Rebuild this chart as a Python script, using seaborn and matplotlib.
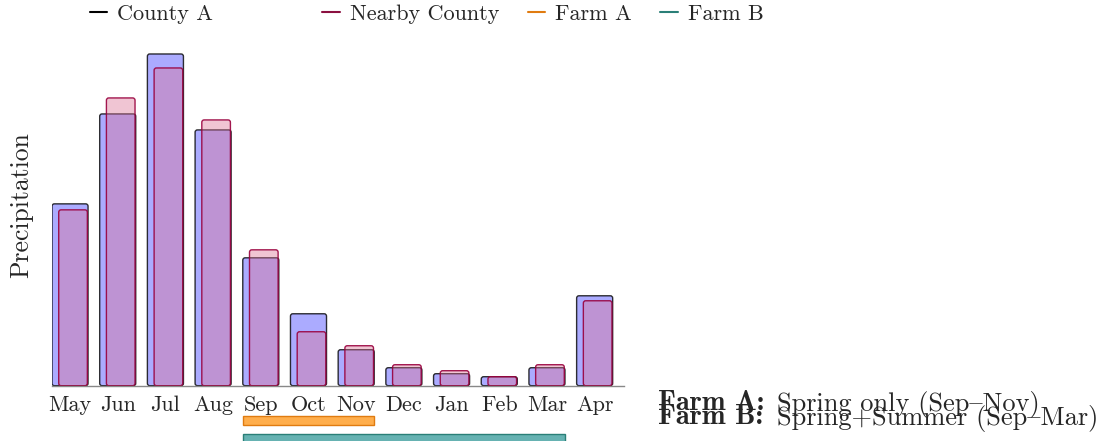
import seaborn as sns
import matplotlib.pyplot as plt
from matplotlib.lines import Line2D
from matplotlib.patches import FancyBboxPatch

# monthly precipitation
months = ['May', 'Jun', 'Jul', 'Aug', 'Sep', 'Oct', 'Nov', 'Dec', 'Jan', 'Feb', 'Mar', 'Apr']
county_a = [91, 136, 166, 128, 64, 36, 18, 9, 6, 4.5, 9, 45]
nearby_county = [88, 144, 159, 133, 68, 27, 20, 10.5, 7.5, 4.5, 10.5, 42.5]

# farm seasons (first and last month)
farms = ['Farm A', 'Farm B']
farm_start = ['Sep', 'Sep']
farm_end = ['Nov', 'Mar']
# '{' is the en dash slot in the TeX font cmr10
farm_notes = ['Spring only (Sep{Nov)', 'Spring+Summer (Sep{Mar)']

sns.set_style('white')
plt.rcParams['font.family'] = ['cmr10', 'DejaVu Serif']
plt.rcParams['mathtext.fontset'] = 'cm'
plt.rcParams['axes.formatter.use_mathtext'] = True

fig = plt.figure(figsize=(11.04, 4.41), dpi=100)
ax = fig.add_axes([0.0471, 0.1254, 0.5181, 0.793])

sns.barplot(x=months, y=county_a, order=months, color='blue',
            saturation=1, width=0.756, errorbar=None, ax=ax)
sns.barplot(x=months, y=nearby_county, order=months, color='palevioletred',
            saturation=1, width=0.6, errorbar=None, ax=ax)

ax.set_xlim(-0.378, 11.615)
ax.set_ylim(0, 175)

# swap plain rectangles for slightly rounded boxes
aspect = (0.5181 * 1104 / 11.993) / (0.793 * 441 / 175)
styles = [((0, 0, 1, 0.33), (0, 0, 0, 0.8), 0.0),
          ((0.859, 0.439, 0.576, 0.4), (0.6, 0.0, 0.24, 0.9), 0.063)]
for cont, (fc, ec, dx) in zip(ax.containers, styles):
    for bar in cont:
        x, w, h = bar.get_x() + dx, bar.get_width(), bar.get_height()
        bar.set_visible(False)
        ax.add_patch(FancyBboxPatch((x, 0), w, h,
                                    boxstyle='round,pad=0,rounding_size=0.05',
                                    mutation_aspect=aspect, facecolor=fc,
                                    edgecolor=ec, linewidth=1.0))

# farm season bars below the axis
farm_colors = [((1.0, 0.549, 0.0, 0.7), '#e07b10'), ((0.0, 0.502, 0.502, 0.6), '#2a7f77')]
farm_y = [-17.4, -26.8]
for i, f in enumerate(farms):
    x0 = months.index(farm_start[i]) - 0.378
    x1 = months.index(farm_end[i]) + 0.378
    ax.barh(farm_y[i], x1 - x0, left=x0, height=4.8, color=farm_colors[i][0],
            edgecolor=farm_colors[i][1], linewidth=1.0, clip_on=False)

ax.set_yticks([])
ax.set_xlabel('')
ax.set_ylabel('Precipitation', fontsize=18.5)
ax.yaxis.set_label_coords(-0.033, 0.517)
ax.tick_params(axis='x', length=0, pad=7, labelsize=16)
for s in ['left', 'right', 'top']:
    ax.spines[s].set_visible(False)
ax.spines['bottom'].set_color('#888888')
ax.spines['bottom'].set_linewidth(1.0)

# legends
h1 = [Line2D([], [], color='black', lw=1.5)]
fig.legend(h1, ['County A'], loc='upper left', bbox_to_anchor=(0.063, 1.035),
           frameon=False, fontsize=16, handlelength=0.77, handletextpad=0.45)
h2 = [Line2D([], [], color='#8b1040', lw=1.5),
      Line2D([], [], color='#e07b10', lw=1.5),
      Line2D([], [], color='#2a7f77', lw=1.5)]
fig.legend(h2, ['Nearby County', 'Farm A', 'Farm B'], loc='upper left', ncol=3,
           bbox_to_anchor=(0.274, 1.035), frameon=False, fontsize=16,
           handlelength=0.77, handletextpad=0.45, columnspacing=1.3)

# farm notes: bold label then plain text
for i, f in enumerate(farms):
    yb = 1 - [410.5, 424.5][i] / 441
    fig.text(658 / 1104, yb, f + ':', family='cmb10', fontsize=20.5,
             va='baseline', ha='left')
    fig.text(777 / 1104, yb, farm_notes[i], fontsize=19,
             va='baseline', ha='left')

fig.savefig('out.png', dpi=100)
